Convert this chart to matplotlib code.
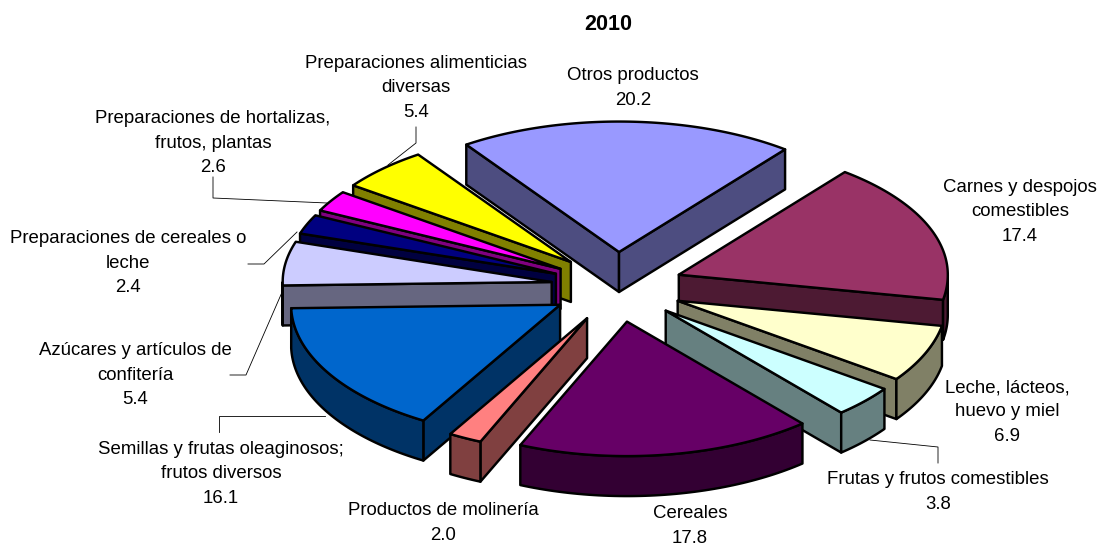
import numpy as np
import matplotlib
matplotlib.use("Agg")
import matplotlib.pyplot as plt
from matplotlib.patches import Polygon

plt.rcParams['font.family'] = ['Liberation Sans', 'DejaVu Sans']

# Data, clockwise from the first slice
categories = [
    "Otros productos",
    "Carnes y despojos\ncomestibles",
    "Leche, lácteos,\nhuevo y miel",
    "Frutas y frutos comestibles",
    "Cereales",
    "Productos de molinería",
    "Semillas y frutas oleaginosos;\nfrutos diversos",
    "Azúcares y artículos de\nconfitería",
    "Preparaciones de cereales o\nleche",
    "Preparaciones de hortalizas,\nfrutos, plantas",
    "Preparaciones alimenticias\ndiversas",
]
values = [20.2, 17.4, 6.9, 3.8, 17.8, 2.0, 16.1, 5.4, 2.4, 2.6, 5.4]
top_colors = ["#9999FF", "#993366", "#FFFFCC", "#CCFFFF", "#660066", "#FF8080",
              "#0066CC", "#CCCCFF", "#000080", "#FF00FF", "#FFFF00"]
side_colors = ["#4D4D80", "#4D1A33", "#808066", "#668080", "#330033", "#804040",
               "#003366", "#666680", "#000040", "#800080", "#808000"]

# Label centres in pixels
label_pos = [(633, 88), (1020, 212), (1007, 412), (938, 492), (690, 526), (443, 523),
             (221, 474), (135, 375), (128, 263), (213, 143), (416, 88)]

# Leader lines in pixels
leaders = [
    [(416, 127), (416, 143), (388, 165)],
    [(213, 177), (213, 198), (327, 203)],
    [(248, 264), (264, 264), (297, 232)],
    [(230, 375), (246, 375), (283, 290)],
    [(219, 432), (219, 416), (325, 416)],
    [(870, 440), (938, 447), (938, 463)],
]

# Pie geometry
cx, cy = 617, 287
radius = 269
squash_back, squash_front = 0.485, 0.50
explode_x, explode_y = 66, 35
depth = 40
start_angle = -34.6

fig = plt.figure(figsize=(10.99, 5.46), dpi=100)
ax = fig.add_axes([0, 0, 1, 1])
ax.set_xlim(0, 1099)
ax.set_ylim(546, 0)
ax.axis("off")


def rim(ox, oy, angles):
    # angles are clockwise from the top of the pie
    rad = np.radians(angles)
    c = np.cos(rad)
    return np.column_stack([ox + radius * np.sin(rad),
                            oy - radius * np.where(c > 0, squash_back, squash_front) * c])


def extrude(points):
    return np.vstack([points, (points + [0, depth])[::-1]])


sweep = np.array(values) / sum(values) * 360
starts = start_angle + np.concatenate([[0], np.cumsum(sweep)[:-1]])

slices = []
for i, (a, s) in enumerate(zip(starts, sweep)):
    mid = np.radians(a + s / 2)
    ox = cx + explode_x * np.sin(mid)
    oy = cy - explode_y * np.cos(mid)
    slices.append((oy, ox, a, a + s, i))

lw = 1.75
for oy, ox, a, b, i in sorted(slices):
    arc = rim(ox, oy, np.linspace(a, b, 80))
    apex = np.array([[ox, oy]])
    style = dict(facecolor=side_colors[i], edgecolor="black", linewidth=lw, joinstyle="round")
    # wall on the start side, seen only when it faces the viewer
    if np.sin(np.radians(a)) < 0:
        ax.add_patch(Polygon(extrude(np.vstack([apex, arc[:1]])), **style))
    if np.sin(np.radians(b)) > 0:
        ax.add_patch(Polygon(extrude(np.vstack([apex, arc[-1:]])), **style))
    # outer wall, lower half of the rim only
    lo, hi = max(a, 90), min(b, 270)
    if hi > lo:
        ax.add_patch(Polygon(extrude(rim(ox, oy, np.linspace(lo, hi, 60))), **style))
    ax.add_patch(Polygon(np.vstack([apex, arc]), facecolor=top_colors[i],
                         edgecolor="black", linewidth=lw, joinstyle="round"))

for line in leaders:
    xs, ys = zip(*line)
    ax.plot(xs, ys, color="black", linewidth=0.6)

for name, val, (x, y) in zip(categories, values, label_pos):
    ax.text(x, y, f"{name}\n{val:.1f}", ha="center", va="center",
            fontsize=13.4, linespacing=1.54, color="black")

ax.text(608, 24, "2010", ha="center", va="center", fontsize=15.5, fontweight="bold")

fig.savefig("out.png", dpi=100)
